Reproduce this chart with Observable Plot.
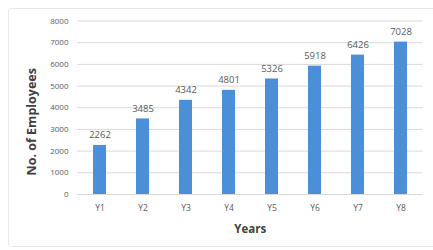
<!DOCTYPE html>
<html>
<head>
<meta charset="utf-8">
<script src="https://cdn.jsdelivr.net/npm/d3@7"></script>
<script src="https://cdn.jsdelivr.net/npm/@observablehq/plot@0.6"></script>
<style>
  html, body { margin: 0; padding: 0; background: #fff; }
  #wrap { position: relative; width: 433px; height: 250px; }
  #border { position: absolute; left: 8px; top: 8px; width: 428px; height: 239px; border: 1px solid #e8e8e8; border-radius: 3px; box-sizing: border-box; pointer-events: none; }
  #chart svg { display: block; }
</style>
</head>
<body>
<div id="wrap">
  <div id="chart"></div>
  <div id="border"></div>
</div>
<script>
const years = ["Y1", "Y2", "Y3", "Y4", "Y5", "Y6", "Y7", "Y8"];
const employees = [2262, 3485, 4342, 4801, 5326, 5918, 6426, 7028];
const yTicks = [0, 1000, 2000, 3000, 4000, 5000, 6000, 7000, 8000];

const data = years.map((y, i) => ({year: y, value: employees[i]}));

const chart = Plot.plot({
  width: 433,
  height: 250,
  marginLeft: 77,
  marginRight: 10.5,
  marginTop: 20.5,
  marginBottom: 56,
  style: {fontFamily: "'Open Sans', sans-serif", fontSize: "8px", color: "#595959", background: "transparent"},
  x: {domain: years, paddingInner: 0.7, paddingOuter: 0.35},
  y: {domain: [0, 8000]},
  marks: [
    Plot.ruleY(yTicks, {stroke: "#d9d9d9", strokeWidth: 1}),
    Plot.barY(data, {x: "year", y: "value", fill: "#4a8fd8"}),
    Plot.text(data, {x: "year", y: "value", text: d => String(d.value), dy: -10, fill: "#595959", fontSize: 9.5}),
    Plot.axisY({ticks: yTicks, tickFormat: d3.format("d"), tickSize: 0, tickPadding: 9, label: "No. of Employees", labelAnchor: "center", labelArrow: "none", labelOffset: 50, fontSize: 8, color: "#595959"}),
    Plot.axisX({tickSize: 0, tickPadding: 10, label: "Years", labelAnchor: "center", labelArrow: "none", labelOffset: 38, fontSize: 8.5})
  ]
});

// style axis labels
chart.querySelectorAll("[aria-label='y-axis label'] text, [aria-label='x-axis label'] text").forEach(t => {
  t.setAttribute("font-weight", "bold");
  t.setAttribute("fill", "#404040");
});
const yl = chart.querySelector("[aria-label='y-axis label'] text");
if (yl) { yl.setAttribute("font-size", "12.5"); yl.setAttribute("dx", "-14"); }
const xl = chart.querySelector("[aria-label='x-axis label'] text");
if (xl) xl.setAttribute("font-size", "11.5");

document.getElementById("chart").appendChild(chart);
</script>
</body>
</html>
